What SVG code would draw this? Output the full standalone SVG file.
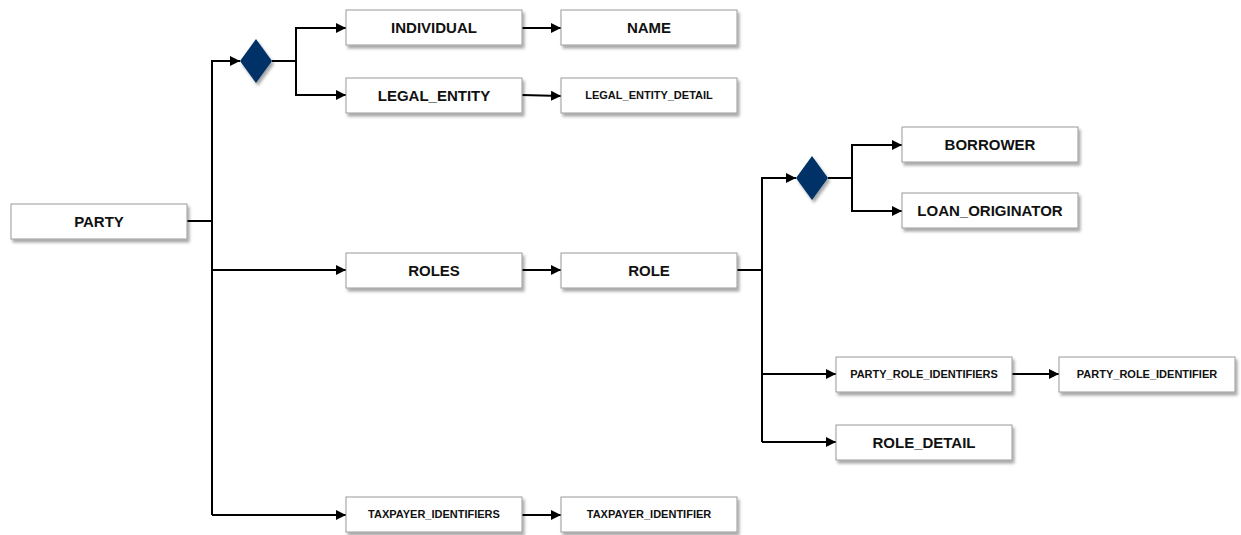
<svg xmlns="http://www.w3.org/2000/svg" width="1241" height="535" viewBox="0 0 1241 535">
<style>
.box{fill:#fff;stroke:#9a9a9a;stroke-width:1;filter:url(#sh)}
.t{font-family:"Liberation Sans",Arial,sans-serif;font-weight:bold;fill:#111;text-anchor:middle}
.big{font-size:15px}
.sm{font-size:11px}
.c{fill:none;stroke:#000;stroke-width:2}
.a{marker-end:url(#ar)}
.dia{fill:#003068;filter:url(#sh)}
</style>
<defs>
<filter id="sh" x="-20%" y="-30%" width="140%" height="170%">
<feDropShadow dx="2" dy="3" stdDeviation="1.5" flood-color="#000" flood-opacity="0.35"/>
</filter>
<marker id="ar" markerWidth="10" markerHeight="10" refX="10" refY="5" orient="auto" markerUnits="userSpaceOnUse">
<path d="M0,0 L10,5 L0,10 Z" fill="#000"/>
</marker>
</defs>
<g id="connectors">
<path class="c" d="M187,221 H212"/>
<path class="c a" d="M212,515 V61 H240"/>
<path class="c a" d="M212,270 H346"/>
<path class="c a" d="M212,515 H346"/>
<path class="c" d="M272,61 H296"/>
<path class="c a" d="M296,61 V28 H346"/>
<path class="c a" d="M296,61 V95 H346"/>
<path class="c a" d="M522,28 H561"/>
<path class="c a" d="M522,95 L561,96"/>
<path class="c a" d="M522,270 H561"/>
<path class="c a" d="M522,515 H561"/>
<path class="c" d="M737,270 H762"/>
<path class="c a" d="M762,442 V178 H796"/>
<path class="c a" d="M762,374 H836"/>
<path class="c a" d="M762,442 H836"/>
<path class="c" d="M828,178 H852"/>
<path class="c a" d="M852,178 V145 H902"/>
<path class="c a" d="M852,178 V211 H902"/>
<path class="c a" d="M1012,374 H1059"/>
</g>
<g id="party"><rect class="box" x="11" y="204" width="176" height="35"/><text class="t big" x="99" y="227">PARTY</text></g>
<g id="choice1"><path class="dia" d="M256,39 L272,61 L256,83 L240,61 Z"/></g>
<g id="individual"><rect class="box" x="346" y="10" width="176" height="35"/><text class="t big" x="434" y="33">INDIVIDUAL</text></g>
<g id="name"><rect class="box" x="561" y="10" width="176" height="35"/><text class="t big" x="649" y="33">NAME</text></g>
<g id="legal_entity"><rect class="box" x="346" y="78" width="176" height="35"/><text class="t big" x="434" y="101">LEGAL_ENTITY</text></g>
<g id="legal_entity_detail"><rect class="box" x="561" y="78" width="176" height="35"/><text class="t sm" x="649" y="99">LEGAL_ENTITY_DETAIL</text></g>
<g id="roles"><rect class="box" x="346" y="253" width="176" height="35"/><text class="t big" x="434" y="276">ROLES</text></g>
<g id="role"><rect class="box" x="561" y="253" width="176" height="35"/><text class="t big" x="649" y="276">ROLE</text></g>
<g id="choice2"><path class="dia" d="M812,156 L828,178 L812,200 L796,178 Z"/></g>
<g id="borrower"><rect class="box" x="902" y="127" width="176" height="35"/><text class="t big" x="990" y="150">BORROWER</text></g>
<g id="loan_originator"><rect class="box" x="902" y="193" width="176" height="35"/><text class="t big" x="990" y="216">LOAN_ORIGINATOR</text></g>
<g id="party_role_identifiers"><rect class="box" x="836" y="357" width="176" height="35"/><text class="t sm" x="924" y="378">PARTY_ROLE_IDENTIFIERS</text></g>
<g id="party_role_identifier"><rect class="box" x="1059" y="357" width="176" height="35"/><text class="t sm" x="1147" y="378">PARTY_ROLE_IDENTIFIER</text></g>
<g id="role_detail"><rect class="box" x="836" y="425" width="176" height="35"/><text class="t big" x="924" y="448">ROLE_DETAIL</text></g>
<g id="taxpayer_identifiers"><rect class="box" x="346" y="497" width="176" height="35"/><text class="t sm" x="434" y="518">TAXPAYER_IDENTIFIERS</text></g>
<g id="taxpayer_identifier"><rect class="box" x="561" y="497" width="176" height="35"/><text class="t sm" x="649" y="518">TAXPAYER_IDENTIFIER</text></g>
</svg>
